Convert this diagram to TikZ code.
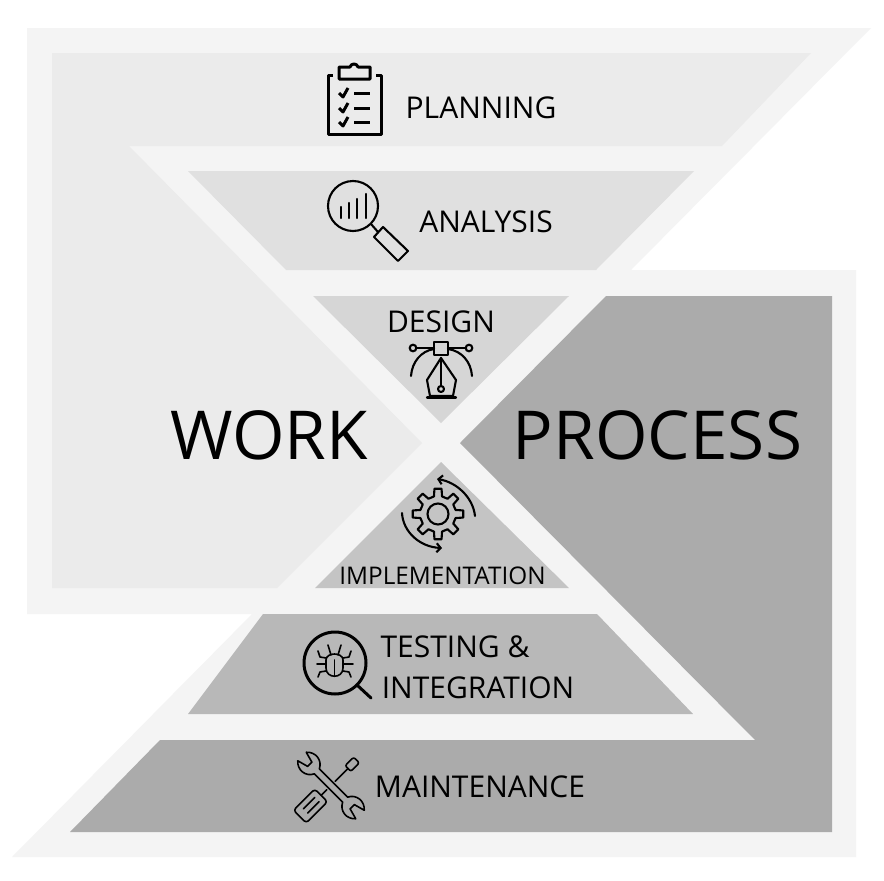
\documentclass[tikz,border=0pt]{standalone}
\usepackage{fontspec}
\setmainfont{Open Sans}
\usetikzlibrary{arrows.meta}
\definecolor{framegray}{HTML}{F4F4F4}
\definecolor{workgray}{HTML}{EBEBEB}
\definecolor{analysisgray}{HTML}{E0E0E0}
\definecolor{designgray}{HTML}{D6D6D6}
\definecolor{implementgray}{HTML}{C4C4C4}
\definecolor{testgray}{HTML}{B8B8B8}
\definecolor{processgray}{HTML}{ABABAB}
\tikzset{
    stagelabel/.style={font=\fontsize{30}{36}\selectfont, inner sep=0pt, text=black},
    smalllabel/.style={font=\fontsize{24.3}{30}\selectfont, inner sep=0pt, text=black},
    biglabel/.style={font=\fontsize{67.5}{80}\selectfont, inner sep=0pt, text=black},
    iconline/.style={draw=black, line width=2.1pt, line cap=round, line join=round},
    iconthin/.style={draw=black, line width=1.6pt, line cap=round, line join=round},
    iconthick/.style={draw=black, line width=3pt, line join=round}
}

\begin{document}
\begin{tikzpicture}[x=1pt, y=-1pt]
        \useasboundingbox (0,0) rectangle (884,881);
        \fill[white] (0,0) rectangle (884,881);

        % frame and bands
        \fill[framegray] (27,28) -- (871,28) -- (631,270) -- (856,270) -- (856,857) -- (12,857) -- (252,614) -- (27,614) -- cycle;
        \fill[workgray] (52,53) -- (811,53) -- (722,146) -- (129,146) -- (422,443) -- (277,588) -- (52,588) -- cycle;
        \fill[analysisgray] (188,171) -- (694,171) -- (596,270) -- (286,270) -- cycle;
        \fill[designgray] (313,296) -- (569,296) -- (441,423) -- cycle;
        \fill[processgray] (606,296) -- (832,296) -- (832,832) -- (70,832) -- (160,740) -- (755,740) -- (460,443) -- cycle;
        \fill[implementgray] (441,462) -- (569,588) -- (315,588) -- cycle;
        \fill[testgray] (263,614) -- (597,614) -- (693,714) -- (188,714) -- cycle;

        % labels
        \node[stagelabel] (planning) at (481,107.5) {PLANNING};
        \node[stagelabel] (analysis) at (486,221.5) {ANALYSIS};
        \node[stagelabel] (design) at (441,321.5) {DESIGN};
        \node[smalllabel] (implementation) at (442.5,575.5) {IMPLEMENTATION};
        \node[stagelabel] (testing) at (455,646.5) {TESTING \&};
        \node[stagelabel] (integration) at (478,687.5) {INTEGRATION};
        \node[stagelabel] (maintenance) at (480,786.5) {MAINTENANCE};
        \node[biglabel] (work) at (269,435.5) {WORK};
        \node[biglabel] (process) at (657.5,435.5) {PROCESS};

        % clipboard
        \draw[iconthick] (333,75) -- (328,75) -- (328,134) -- (381,134) -- (381,75) -- (376,75);
        \draw[iconthick] (339,67) -- (350,67) .. controls (351,63) and (357,63) .. (358,67) -- (370,67) -- (370,79) -- (339,79) -- cycle;
        \foreach \y in {93,108,122} {
            \draw[iconthick] (339,\y) -- (343,\y+4) -- (348,\y-5);
            \draw[iconthick] (354,\y) -- (370,\y);
        }

        % magnifier with bars
        \draw[iconline] (353,206) circle (25);
        \draw[iconline] (371,224) -- (378,232);
        \draw[iconline] (383,227) -- (408,251) -- (398,261) -- (374,237) -- cycle;
        \draw[iconline] (341,207) -- (341,218);
        \draw[iconline] (349,203) -- (349,218);
        \draw[iconline] (357,199) -- (357,218);
        \draw[iconline] (366,194) -- (366,218);

        % pen tool
        \draw[iconline] (434,342) rectangle (448,355);
        \draw[iconline] (413,348) circle (3.3);
        \draw[iconline] (469,348) circle (3.3);
        \draw[iconline] (416,348) -- (434,348);
        \draw[iconline] (448,348) -- (466,348);
        \draw[iconline] (411,376) .. controls (412,362) and (421,351) .. (434,349);
        \draw[iconline] (472,376) .. controls (471,362) and (462,351) .. (448,349);
        \draw[iconline] (441,358) -- (427,380) -- (430,396) -- (453,396) -- (456,380) -- cycle;
        \draw[iconline] (441,358) -- (441,386);
        \draw[iconline] (441,389) circle (3);
        \draw[iconline] (427,397.5) -- (456,397.5);

        % gear with arrows
        \draw[iconline] (438,514) circle (10.5);
        \begin{scope}[shift={(438,514)}]
            \draw[iconline] (-13:18)
                \foreach \a in {0,45,...,315} {
                    -- (\a-13:18) -- (\a-8:25.5) -- (\a+8:25.5) -- (\a+13:18)
                } -- cycle;
        \end{scope}
        \draw[iconline, -{Straight Barb[length=4pt,width=9pt]}] (475,516) .. controls (473,497) and (456,482) .. (437,479);
        \draw[iconline, -{Straight Barb[length=4pt,width=9pt]}] (402,513) .. controls (403,532) and (420,547) .. (442,548);

        % bug in a lens
        \draw[iconthick] (335,663) circle (31);
        \draw[iconthick, line cap=round] (357,685) -- (371,698);
        \draw[iconthin] (326,660) .. controls (326,652) and (343,652) .. (343,660) -- (343,668) .. controls (343,679) and (326,679) .. (326,668) -- cycle;
        \draw[iconthin] (334.5,660) -- (334.5,676);
        \draw[iconthin] (331,655) -- (328,645);
        \draw[iconthin] (338,655) -- (341,645);
        \draw[iconthin] (326,664) -- (317,664);
        \draw[iconthin] (343,664) -- (353,664);
        \draw[iconthin] (326,658) -- (320,657) -- (318,651);
        \draw[iconthin] (343,658) -- (349,657) -- (351,651);
        \draw[iconthin] (326,671) -- (320,672) -- (318,677);
        \draw[iconthin] (343,671) -- (349,672) -- (351,677);

        % wrench and screwdriver
        \begin{scope}[shift={(331,785.5)}, rotate=-45]
            \draw[iconthin] (-20,-3.5) -- (20,-3.5) .. controls (24,-12) and (35,-13) .. (41,-6) -- (30,-3) -- (30,3) -- (41,6) .. controls (35,13) and (24,12) .. (20,3.5) -- (-20,3.5) .. controls (-24,12) and (-35,13) .. (-41,6) -- (-30,3) -- (-30,-3) -- (-41,-6) .. controls (-35,-13) and (-24,-12) .. (-20,-3.5);
        \end{scope}
        \begin{scope}[shift={(331,785.5)}, rotate=45]
            \draw[iconthin, rounded corners=3pt] (-44,-9) rectangle (-14,9);
            \draw[iconthin] (-36,-3) -- (-20,-3);
            \draw[iconthin] (-36,3) -- (-20,3);
            \draw[iconthin] (-14,0) -- (-6,0);
            \draw[iconthin] (6,0) -- (24,0);
            \draw[iconthin, rounded corners=2pt] (24,-4) rectangle (36,4);
        \end{scope}
\end{tikzpicture}
\end{document}
